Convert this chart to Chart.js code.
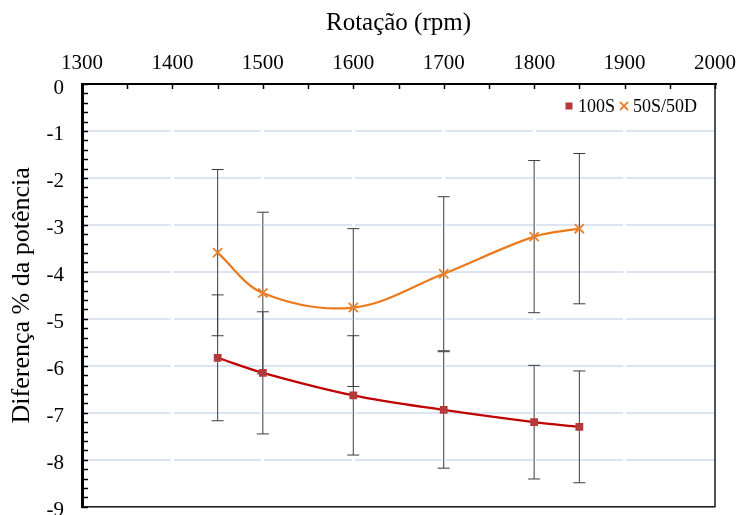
<!DOCTYPE html>
<html>
<head>
<meta charset="utf-8">
<script src="https://cdn.jsdelivr.net/npm/chart.js@4.4.0/dist/chart.umd.min.js"></script>
<style>
	html, body { margin: 0; padding: 0; background: #fff; }
	#wrap { width: 739px; height: 515px; }
</style>
</head>
<body>
<div id="wrap"><canvas id="chart"></canvas></div>
<script>
// data
const rpm = [1450, 1500, 1600, 1700, 1800, 1850];
const s100 = [-5.83, -6.15, -6.63, -6.94, -7.20, -7.30];
const s100_err = [1.34, 1.30, 1.27, 1.24, 1.21, 1.19];
const s50 = [-3.59, -4.45, -4.76, -4.04, -3.25, -3.08];
const s50_err = [1.77, 1.72, 1.68, 1.64, 1.62, 1.60];
const x_min = 1300, x_max = 2000, x_step = 100, x_minor = 50;
const y_min = -9, y_max = 0, y_step = 1, y_minor = 0.2;

const serif = "'Liberation Serif', 'Times New Roman', serif";

function to_points(xs, ys){
	return xs.map((x, i) => ({ x: x, y: ys[i] }));
}

// error bars under the lines, frame, inward ticks and legend on top
let extras = {
	id: 'extras',
	beforeDatasetsDraw: function(chart){
		let ctx = chart.ctx;
		let xs = chart.scales.x, ys = chart.scales.y;
		ctx.save();
		ctx.strokeStyle = '#3c3c3c';
		ctx.lineWidth = 1;
		chart.data.datasets.forEach((ds) => {
			ds.data.forEach((p, i) => {
				let e = ds.err[i];
				let px = xs.getPixelForValue(p.x);
				let top = ys.getPixelForValue(p.y + e);
				let bot = ys.getPixelForValue(p.y - e);
				ctx.beginPath();
				ctx.moveTo(px, top); ctx.lineTo(px, bot);
				ctx.moveTo(px - 6, top); ctx.lineTo(px + 6, top);
				ctx.moveTo(px - 6, bot); ctx.lineTo(px + 6, bot);
				ctx.stroke();
			})
		})
		ctx.restore();
	},
	afterDraw: function(chart){
		let ctx = chart.ctx;
		let a = chart.chartArea;
		let xs = chart.scales.x, ys = chart.scales.y;
		ctx.save();
		// right and bottom frame
		ctx.strokeStyle = '#1a1a1a';
		ctx.lineWidth = 1.5;
		ctx.beginPath();
		ctx.moveTo(a.right, a.top); ctx.lineTo(a.right, a.bottom);
		ctx.lineTo(a.left, a.bottom);
		ctx.stroke();
		// inward minor ticks
		ctx.strokeStyle = '#000';
		ctx.lineWidth = 1.5;
		ctx.beginPath();
		let n = Math.round((y_max - y_min) / y_minor);
		for (let i = 0; i <= n; i++){
			let y = Math.round(ys.getPixelForValue(y_max - i * y_minor)) + 0.5;
			ctx.moveTo(a.left, y); ctx.lineTo(a.left + 6, y);
		}
		let m = Math.round((x_max - x_min) / x_minor);
		for (let i = 0; i <= m; i++){
			let x = Math.round(xs.getPixelForValue(x_min + i * x_minor)) + 0.5;
			ctx.moveTo(x, a.top); ctx.lineTo(x, a.top + 5);
		}
		ctx.stroke();
		// legend, top right inside the plot
		ctx.font = `18px ${serif}`;
		ctx.textBaseline = 'middle';
		ctx.fillStyle = '#000';
		let ly = a.top + 22;
		let x = a.right - 18;
		let items = chart.data.datasets.slice().reverse();
		items.forEach((ds) => {
			let w = ctx.measureText(ds.label).width;
			x -= w;
			ctx.fillStyle = '#000';
			ctx.textAlign = 'left';
			ctx.fillText(ds.label, x, ly + 1);
			x -= 9;
			if (ds.pointStyle == 'rect'){
				ctx.fillStyle = ds.pointBackgroundColor;
				ctx.fillRect(x - 3.5, ly - 3.5, 7, 7);
			} else {
				ctx.strokeStyle = ds.pointBorderColor;
				ctx.lineWidth = 1.8;
				ctx.beginPath();
				ctx.moveTo(x - 4, ly - 4); ctx.lineTo(x + 4, ly + 4);
				ctx.moveTo(x + 4, ly - 4); ctx.lineTo(x - 4, ly + 4);
				ctx.stroke();
			}
			x -= 9;
		})
		ctx.restore();
	}
}

window.onload = () => {
	new Chart('chart', {
		type: 'scatter',
		data: {
			datasets: [
				{
					label: '100S',
					data: to_points(rpm, s100),
					err: s100_err,
					showLine: true,
					tension: 0.35,
					borderColor: '#c00000',
					borderWidth: 2.2,
					pointStyle: 'rect',
					pointRadius: 5.5,
					pointBackgroundColor: '#b3393b',
					pointBorderColor: '#b3393b',
					pointBorderWidth: 0,
				},
				{
					label: '50S/50D',
					data: to_points(rpm, s50),
					err: s50_err,
					showLine: true,
					tension: 0.35,
					borderColor: '#ec7a1c',
					borderWidth: 2.2,
					pointStyle: 'crossRot',
					pointRadius: 6.5,
					pointBackgroundColor: '#e8812e',
					pointBorderColor: '#e8812e',
					pointBorderWidth: 1.8,
				}
			]
		},
		options: {
			responsive: true,
			maintainAspectRatio: false,
			animation: false,
			layout: { padding: { left: 0, right: 24, top: 0, bottom: 8 } },
			plugins: {
				legend: { display: false },
				tooltip: { enabled: false }
			},
			scales: {
				y: {
					min: y_min,
					max: y_max,
					afterFit: (s) => { s.width = 82; s.paddingTop = 0; s.paddingBottom = 0; },
					ticks: {
						stepSize: y_step,
						color: '#000',
						padding: 18,
						labelOffset: 4,
						font: { family: serif, size: 21 }
					},
					grid: { color: '#dbe5f1', lineWidth: 2, drawTicks: false },
					border: { display: true, color: '#000', width: 3 },
					title: {
						display: true,
						text: 'Diferença % da potência',
						color: '#000',
						font: { family: serif, size: 26 },
						padding: { top: 7, bottom: 0 }
					}
				},
				x: {
					type: 'linear',
					position: 'top',
					min: x_min,
					max: x_max,
					afterFit: (s) => { s.height = 84; s.paddingLeft = 0; s.paddingRight = 0; },
					ticks: {
						stepSize: x_step,
						color: '#000',
						padding: 8,
						maxRotation: 0,
						callback: (v) => String(v),
						font: { family: serif, size: 21 }
					},
					grid: { color: '#ffffff', lineWidth: 3, drawTicks: false },
					border: { display: true, color: '#000', width: 2 },
					title: {
						display: true,
						text: 'Rotação (rpm)',
						color: '#000',
						font: { family: serif, size: 25 },
						padding: { top: 8, bottom: 0 }
					}
				}
			}
		},
		plugins: [extras]
	});
};
</script>
</body>
</html>
